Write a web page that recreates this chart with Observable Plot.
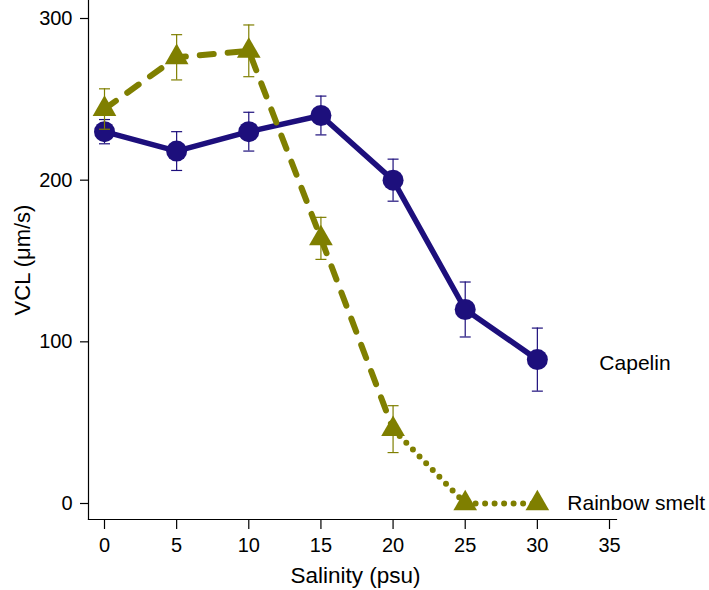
<!DOCTYPE html>
<html>
<head>
<meta charset="utf-8">
<script src="https://cdn.jsdelivr.net/npm/d3@7"></script>
<script src="https://cdn.jsdelivr.net/npm/@observablehq/plot@0.6"></script>
<style>
  html, body { margin: 0; padding: 0; background: #fff; }
  svg { font-family: "Liberation Sans", Arial, sans-serif; }
</style>
</head>
<body>
<div id="chart"></div>
<script>
// Salinity (psu)
const salinity = [0, 5, 10, 15, 20, 25, 30];
// Capelin VCL (µm/s) and error
const capelinVCL = [230, 218, 230, 240, 200, 120, 89];
const capelinErr = [7.5, 12, 12, 12, 13, 17, 19.5];
// Rainbow smelt VCL (µm/s) and error
const smeltVCL = [244, 276, 280, 164, 46, 0, 0];
const smeltErr = [12.5, 14, 16, 13, 14.5, 0, 0];
const xTicks = [0, 5, 10, 15, 20, 25, 30, 35];
const yTicks = [0, 100, 200, 300];

const capelinColor = "#1d0f7c";
const smeltColor = "#7f7f00";

const capelin = salinity.map((x, i) => ({x, y: capelinVCL[i], e: capelinErr[i]}));
const smelt = salinity.map((x, i) => ({x, y: smeltVCL[i], e: smeltErr[i]}));
const smeltDashed = smelt.filter(d => d.x <= 20);
const smeltDotted = smelt.filter(d => d.x >= 20);
const capelinBars = capelin.filter(d => d.e > 0);
const smeltBars = smelt.filter(d => d.e > 0);

const capSymbol = {
  draw(ctx, size) {
    const r = Math.sqrt(size / Math.PI);
    ctx.moveTo(-r, 0);
    ctx.lineTo(r, 0);
  }
};

const chart = Plot.plot({
  width: 709,
  height: 590,
  marginLeft: 88,
  marginRight: 93,
  marginTop: 0,
  marginBottom: 71,
  insetLeft: 16,
  insetRight: 7,
  insetTop: 18,
  insetBottom: 16,
  style: {fontFamily: "'Liberation Sans', Arial, sans-serif", fontSize: "20px", color: "#000"},
  x: {domain: [0, 35]},
  y: {domain: [0, 300]},
  marks: [
    Plot.frame({anchor: "left", stroke: "#000", strokeWidth: 1.2}),
    Plot.frame({anchor: "bottom", stroke: "#000", strokeWidth: 1.2}),
    Plot.axisX({ticks: xTicks, tickSize: 10, tickPadding: 8, tickFormat: d => d, fontSize: 20, label: null, strokeWidth: 1.2}),
    Plot.axisY({ticks: yTicks, tickSize: 8, tickPadding: 8, tickFormat: d => d, fontSize: 20, label: null, strokeWidth: 1.2}),
    Plot.text(["VCL (μm/s)"], {frameAnchor: "left", rotate: -90, dx: -66, textAnchor: "middle", lineAnchor: "middle", text: d => d, fontSize: 22}),
    Plot.text(["Salinity (psu)"], {frameAnchor: "bottom", dy: 56, textAnchor: "middle", lineAnchor: "middle", dx: 3, text: d => d, fontSize: 22.5}),
    // Capelin
    Plot.ruleX(capelinBars, {x: "x", y1: d => d.y - d.e, y2: d => d.y + d.e, stroke: capelinColor, strokeWidth: 1.2}),
    Plot.dot(capelinBars, {x: "x", y: d => d.y - d.e, symbol: capSymbol, r: 5.5, stroke: capelinColor, strokeWidth: 1.2, fill: "none"}),
    Plot.dot(capelinBars, {x: "x", y: d => d.y + d.e, symbol: capSymbol, r: 5.5, stroke: capelinColor, strokeWidth: 1.2, fill: "none"}),
    Plot.line(capelin, {x: "x", y: "y", stroke: capelinColor, strokeWidth: 5.5}),
    Plot.dot(capelin, {x: "x", y: "y", r: 10.5, fill: capelinColor, stroke: "none"}),
    // Rainbow smelt
    Plot.ruleX(smeltBars, {x: "x", y1: d => d.y - d.e, y2: d => d.y + d.e, stroke: smeltColor, strokeWidth: 1.2}),
    Plot.dot(smeltBars, {x: "x", y: d => d.y - d.e, symbol: capSymbol, r: 5.5, stroke: smeltColor, strokeWidth: 1.2, fill: "none"}),
    Plot.dot(smeltBars, {x: "x", y: d => d.y + d.e, symbol: capSymbol, r: 5.5, stroke: smeltColor, strokeWidth: 1.2, fill: "none"}),
    Plot.line(smeltDashed, {x: "x", y: "y", stroke: smeltColor, strokeWidth: 6, strokeDasharray: "14,14", strokeLinecap: "round"}),
    Plot.line(smeltDotted, {x: "x", y: "y", stroke: smeltColor, strokeWidth: 6, strokeDasharray: "0,9.5", strokeLinecap: "round"}),
    Plot.dot(smelt, {x: "x", y: "y", symbol: "triangle", r: 8.8, fill: smeltColor, stroke: "none"}),
    // Series labels
    Plot.text([capelin[capelin.length - 1]], {x: "x", y: "y", text: () => "Capelin", textAnchor: "start", dx: 62, dy: 4, fontSize: 21}),
    Plot.text([smelt[smelt.length - 1]], {x: "x", y: "y", text: () => "Rainbow smelt", textAnchor: "start", dx: 30, fontSize: 21})
  ]
});
document.getElementById("chart").appendChild(chart);
</script>
</body>
</html>
